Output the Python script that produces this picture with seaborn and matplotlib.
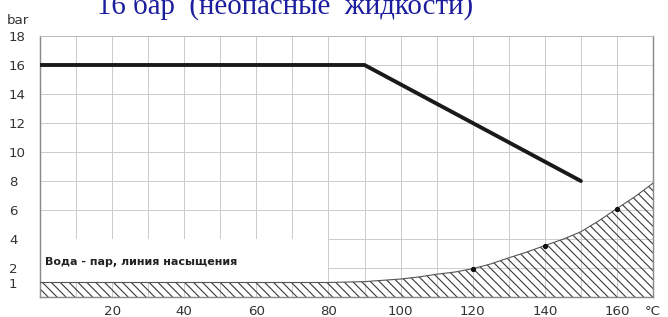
import matplotlib
matplotlib.use('Agg')
import matplotlib.pyplot as plt
from matplotlib.patches import Rectangle
import numpy as np
import pandas as pd
import seaborn as sns

# PN16 rating line (temperature, pressure)
rating_t = [0, 90, 150]
rating_p = [16, 16, 8]

# water - steam saturation line
sat_t = [0, 80, 90, 100, 105, 110, 115, 120, 125, 130, 135, 140, 145, 150, 155, 160, 165, 170]
sat_p = [1.0, 1.0, 1.06, 1.24, 1.38, 1.57, 1.72, 1.95, 2.28, 2.7, 3.1, 3.55, 3.98, 4.5, 5.26, 6.1, 6.92, 7.85]

# marked points on the saturation line
dot_t = [120, 140, 160]
dot_p = [1.95, 3.55, 6.1]

x_ticks = [20, 40, 60, 80, 100, 120, 140, 160]
y_ticks = [1, 2, 4, 6, 8, 10, 12, 14, 16, 18]

title = '16 бар  (неопасные  жидкости)'
note = 'Вода - пар, линия насыщения'

sns.set_style('white')
plt.rcParams['font.family'] = ['DejaVu Sans']
plt.rcParams['hatch.linewidth'] = 1.0

dpi = 80
fig = plt.figure(figsize=(668 / dpi, 317 / dpi), dpi=dpi)
ax = fig.add_axes([40 / 668, 20 / 317, 613 / 668, 261 / 317])

rating = pd.DataFrame({'t': rating_t, 'p': rating_p})
sat = pd.DataFrame({'t': sat_t, 'p': sat_p})

# grid every 10 degC and every 2 bar
ax.xaxis.remove_overlapping_locs = False
ax.yaxis.remove_overlapping_locs = False
ax.set_xticks(np.arange(0, 171, 10), minor=True)
ax.set_yticks(np.arange(0, 19, 2), minor=True)
ax.grid(which='minor', color='#cccccc', linewidth=0.9)
ax.set_axisbelow(True)

# white area behind the note
ax.add_patch(Rectangle((0, 1), 80, 3, facecolor='white', edgecolor='none', zorder=1))

# hatched area under the saturation line
ax.fill_between(sat['t'], 0, sat['p'], facecolor='none', edgecolor='#3a3a3a',
                hatch='\\\\\\', linewidth=0, zorder=2)
sns.lineplot(data=sat, x='t', y='p', ax=ax, color='#555555', linewidth=1.0, zorder=3)
ax.scatter(dot_t, dot_p, s=14, color='#111111', zorder=4)

# rating line
sns.lineplot(data=rating, x='t', y='p', ax=ax, color='#1a1a1a', linewidth=3.5,
             solid_capstyle='round', solid_joinstyle='round', zorder=5)

ax.text(1.4, 2.42, note, fontsize=10, fontweight='bold', color='#222222', va='center', zorder=6)

ax.set_xlim(0, 170)
ax.set_ylim(0, 18)
ax.set_xticks(x_ticks)
ax.set_yticks(y_ticks)
ax.set_xticklabels([str(v) for v in x_ticks])
ax.set_yticklabels([str(v) for v in y_ticks])
ax.tick_params(axis='both', which='both', length=0, labelsize=12, labelcolor='#333333')
ax.tick_params(axis='x', pad=7)
ax.tick_params(axis='y', pad=28)
for lab in ax.get_yticklabels():
    lab.set_horizontalalignment('left')
ax.set_xlabel('')
ax.set_ylabel('')

for side in ['left', 'right', 'bottom']:
    ax.spines[side].set_color('#8a8a8a')
    ax.spines[side].set_linewidth(1.3)
ax.spines['top'].set_color('#bbbbbb')
ax.spines['top'].set_linewidth(0.9)

fig.text(653 / 668, 1 - 305 / 317, '°C', ha='center', va='top', fontsize=12, color='#333333')
fig.text(7 / 668, 1 - 24 / 317, 'bar', ha='left', va='baseline', fontsize=12, color='#333333')
fig.text(97 / 668, 1 - 14 / 317, title, ha='left', va='baseline', fontsize=26,
         family='Liberation Serif', color='#1c1c9e')

fig.savefig('out.png', dpi=dpi)
